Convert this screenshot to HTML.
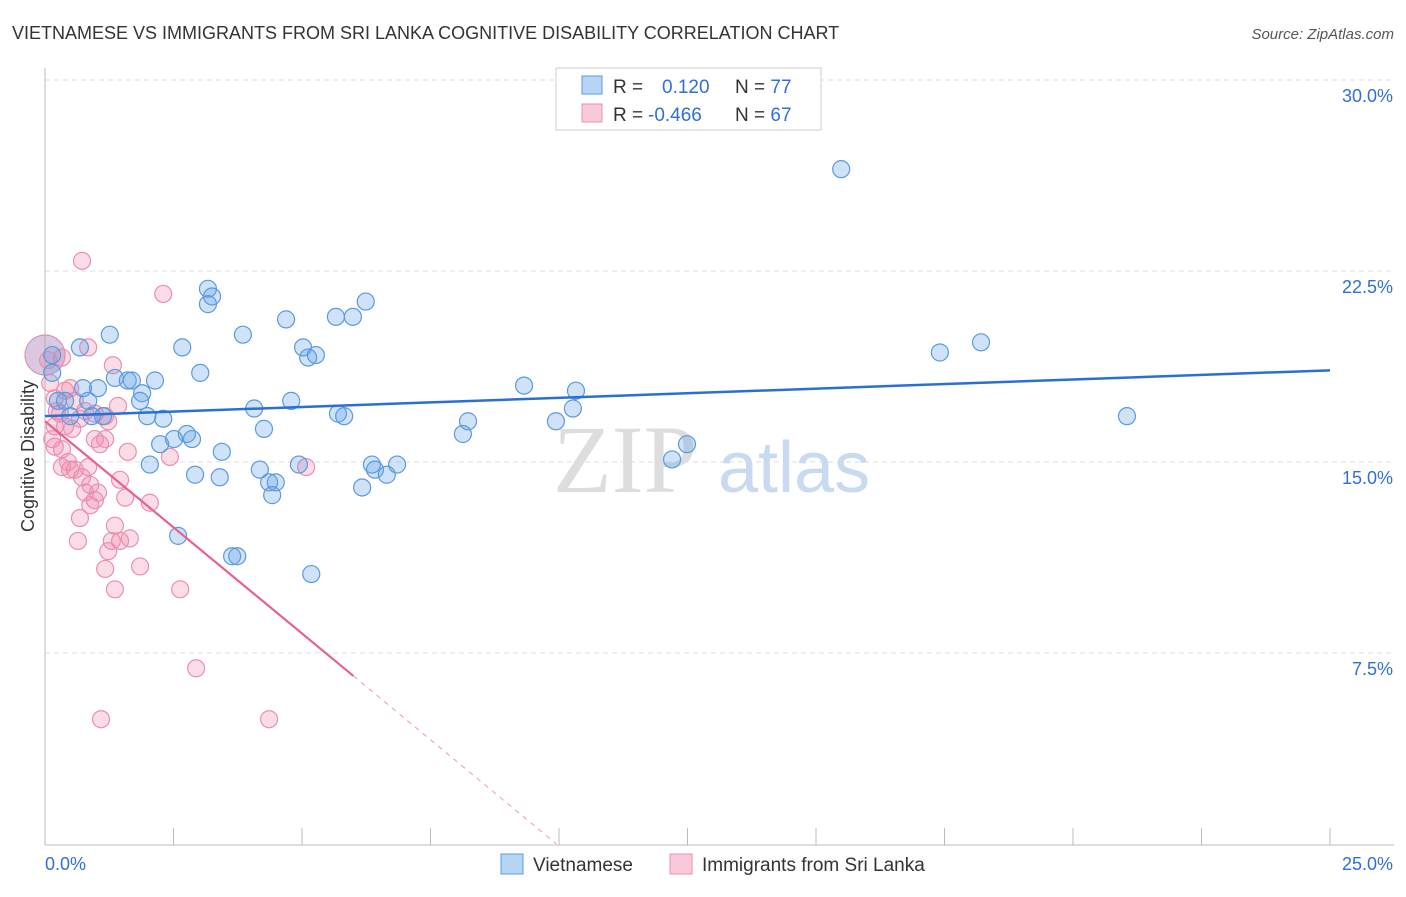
<!DOCTYPE html>
<html><head><meta charset="utf-8"><style>
body{margin:0;background:#fff;font-family:"Liberation Sans",sans-serif}
</style></head><body>
<svg width="1406" height="892" xmlns="http://www.w3.org/2000/svg" style="font-family:'Liberation Sans',sans-serif">
<text x="12" y="39" font-size="18" fill="#333">VIETNAMESE VS IMMIGRANTS FROM SRI LANKA COGNITIVE DISABILITY CORRELATION CHART</text>
<text x="1394" y="39" font-size="15" fill="#555" font-style="italic" text-anchor="end">Source: ZipAtlas.com</text>
<g id="grid"></g>
<g id="axes"></g>
<text x="553" y="492" font-size="96" fill="#ddd" font-family="Liberation Serif">ZIP</text>
<text x="718" y="492" font-size="72" fill="#c8daf0">atlas</text>
<g id="pts"></g>
<g id="lines"></g>
<text transform="translate(34,456) rotate(-90)" font-size="18" fill="#333" text-anchor="middle">Cognitive Disability</text>
<g>
<rect x="556" y="68" width="265" height="62" fill="#fff" stroke="#ccc"/>
<rect x="582" y="76" width="20" height="18" fill="#b8d4f4" stroke="#5a9ae0"/>
<rect x="582" y="104" width="20" height="18" fill="#f9c9d8" stroke="#ec8fb0"/>
<text x="613" y="93" font-size="19" fill="#333">R = <tspan fill="#2f6fd6" x="662">0.120</tspan><tspan x="735" fill="#333">N = </tspan><tspan fill="#2f6fd6">77</tspan></text>
<text x="613" y="121" font-size="19" fill="#333">R = <tspan fill="#2f6fd6" x="648">-0.466</tspan><tspan x="735" fill="#333">N = </tspan><tspan fill="#2f6fd6">67</tspan></text>
</g>
<g>
<rect x="501" y="854" width="22" height="20" fill="#b8d4f4" stroke="#5a9ae0"/>
<text x="533" y="871" font-size="19" fill="#333">Vietnamese</text>
<rect x="670" y="854" width="22" height="20" fill="#f9c9d8" stroke="#ec8fb0"/>
<text x="702" y="871" font-size="19" fill="#333">Immigrants from Sri Lanka</text>
</g>
</svg>
<script>
const yTicks=[7.5,15,22.5,30];
const xTickLabels=["0.0%","25.0%"];
const blueX=[0.14,0.14,0.25,0.39,0.49,0.68,0.74,0.84,0.91,1.03,1.13,1.26,1.36,1.61,1.69,1.85,1.89,1.99,2.14,2.04,2.24,2.30,2.51,2.59,2.67,2.76,2.86,2.92,3.02,3.17,3.17,3.25,3.40,3.44,3.64,3.74,3.85,4.07,4.18,4.26,4.36,4.42,4.49,4.69,4.79,4.94,5.02,5.12,5.27,5.18,5.66,5.70,5.82,5.99,6.24,6.17,6.36,6.42,6.65,6.85,8.13,8.23,9.32,9.94,10.27,10.33,12.20,12.49,15.49,17.41,18.21,21.05];
const blueY=[19.2,18.5,17.4,17.4,16.8,19.5,17.9,17.4,16.8,17.9,16.8,20.0,18.3,18.2,18.2,17.4,17.7,16.8,18.2,14.9,15.7,16.7,15.9,12.1,19.5,16.1,15.9,14.5,18.5,21.8,21.2,21.5,14.4,15.4,11.3,11.3,20.0,17.1,14.7,16.3,14.2,13.7,14.2,20.6,17.4,14.9,19.5,19.1,19.2,10.6,20.7,16.9,16.8,20.7,21.3,14.0,14.9,14.7,14.5,14.9,16.1,16.6,18.0,16.6,17.1,17.8,15.1,15.7,26.5,19.3,19.7,16.8];
const pinkX=[0.72,2.30,0.10,0.19,0.29,0.39,0.49,0.58,0.53,0.68,0.84,0.97,1.07,1.17,1.23,1.32,1.42,1.46,1.61,1.56,1.36,1.30,1.23,1.17,1.36,0.97,0.78,0.68,0.64,0.88,0.33,0.45,0.58,0.72,0.88,0.33,0.19,0.14,1.03,1.85,2.04,2.43,2.63,2.94,1.09,4.36,5.08,0.06,0.33,0.23,0.78,1.17,1.65,1.46,0.49,0.84,0.97,0.19,0.39];
const pinkY=[22.9,21.6,18.1,17.5,16.9,17.8,17.9,17.4,16.3,16.7,19.5,16.9,15.7,15.9,16.6,18.8,17.2,14.3,15.4,13.6,12.5,11.9,11.5,10.8,10.0,13.5,13.8,12.8,11.9,13.3,14.8,15.0,14.7,14.4,14.1,15.5,16.4,15.9,13.8,10.9,13.4,15.2,10.0,6.9,4.9,4.9,14.8,19.0,19.1,17.0,17.0,16.8,12.0,11.9,14.7,14.8,15.9,15.6,16.4];
const blueLine=[[0,16.8],[25,18.6]];
const pinkLine=[[0,16.6],[6.0,6.6]];
const pinkDash=[[6.0,6.6],[9.95,0]];
const NS="http://www.w3.org/2000/svg";
const X=v=>45+v/25*1285, Y=v=>844-v/30*764;
function mk(t,a,p){const e=document.createElementNS(NS,t);for(const k in a)e.setAttribute(k,a[k]);p.appendChild(e);return e;}
const grid=document.getElementById('grid'),axes=document.getElementById('axes');
yTicks.forEach(t=>{
 const l=mk('line',{x1:45,x2:1394,y1:Y(t),y2:Y(t),stroke:'#ddd','stroke-dasharray':'5,4'},grid);
 
 
 const tx=mk('text',{x:1393,y:Y(t)+22,'font-size':18,fill:'#2f6fd6','text-anchor':'end'},axes);
 tx.textContent=t.toFixed(1)+'%';
 
 
});
const ax=mk('line',{x1:45,x2:45,y1:68,y2:845,stroke:'#bbb'},axes);


const bx=mk('line',{x1:45,x2:1394,y1:845,y2:845,stroke:'#bbb'},axes);


for(let i=0;i<=10;i++){const t=mk('line',{x1:X(i*2.5),x2:X(i*2.5),y1:828,y2:845,stroke:'#bbb'},axes);
 
 }
const xl0=mk('text',{x:45,y:870,'font-size':18,fill:'#2f6fd6'},axes);xl0.textContent=xTickLabels[0];


const xl1=mk('text',{x:1393,y:870,'font-size':18,fill:'#2f6fd6','text-anchor':'end'},axes);xl1.textContent=xTickLabels[1];


const pts=document.getElementById('pts');
const big1=mk('circle',{cx:X(0),cy:Y(19.2),r:20,fill:'rgba(100,160,230,0.3)',stroke:'#5a9ae0'},pts);


const big2=mk('circle',{cx:X(0),cy:Y(19.2),r:20,fill:'rgba(240,140,170,0.3)',stroke:'#ec8fb0'},pts);


pinkX.forEach((v,i)=>{const c=mk('circle',{cx:X(v),cy:Y(pinkY[i]),r:8.5,fill:'rgba(240,140,170,0.3)',stroke:'#ec8fb0','stroke-width':1.2},pts);
 
 });
blueX.forEach((v,i)=>{const c=mk('circle',{cx:X(v),cy:Y(blueY[i]),r:8.5,fill:'rgba(100,160,230,0.3)',stroke:'#5a9ae0','stroke-width':1.2},pts);
 
 });
const lines=document.getElementById('lines');
const l1=mk('line',{x1:X(blueLine[0][0]),y1:Y(blueLine[0][1]),x2:X(blueLine[1][0]),y2:Y(blueLine[1][1]),stroke:'#2a6fd6','stroke-width':2.5},lines);


const l2=mk('line',{x1:X(pinkLine[0][0]),y1:Y(pinkLine[0][1]),x2:X(pinkLine[1][0]),y2:Y(pinkLine[1][1]),stroke:'#e8618f','stroke-width':2.2},lines);


const l3=mk('line',{x1:X(pinkDash[0][0]),y1:Y(pinkDash[0][1]),x2:X(pinkDash[1][0]),y2:Y(pinkDash[1][1]),stroke:'#ec9ab5','stroke-width':1,'stroke-dasharray':'5,5'},lines);


</script>
</body></html>
